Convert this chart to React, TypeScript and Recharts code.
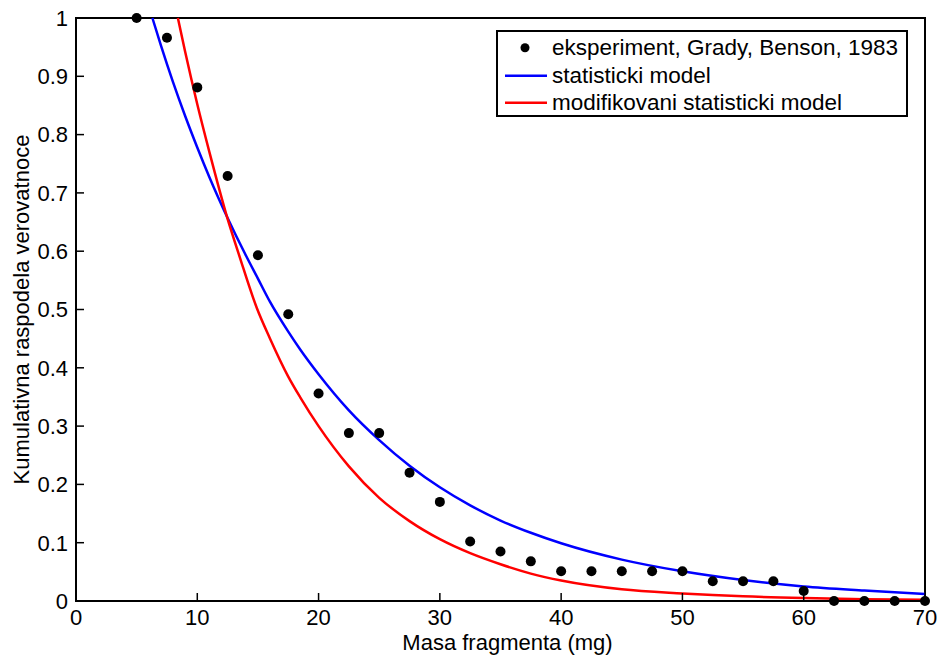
import React from 'react'
import { ComposedChart, XAxis, YAxis, Line, Scatter, Legend, ReferenceArea } from 'recharts'

const FONT = '"Liberation Sans", Arial, Helvetica, sans-serif'
const FONT_SIZE = 22

const xTicks = [0, 10, 20, 30, 40, 50, 60, 70]
const yTicks = [0, 0.1, 0.2, 0.3, 0.4, 0.5, 0.6, 0.7, 0.8, 0.9, 1]

// eksperiment, Grady, Benson, 1983
const expMass = [5, 7.5, 10, 12.5, 15, 17.5, 20, 22.5, 25, 27.5, 30, 32.5, 35, 37.5, 40, 42.5, 45, 47.5, 50, 52.5, 55, 57.5, 60, 62.5, 65, 67.5, 70]
const expProb = [1, 0.966, 0.881, 0.729, 0.593, 0.492, 0.356, 0.288, 0.288, 0.22, 0.17, 0.102, 0.085, 0.068, 0.051, 0.051, 0.051, 0.051, 0.051, 0.034, 0.034, 0.034, 0.017, 0, 0, 0, 0]

// statisticki model
const statMass = [6.3, 7, 8, 9, 10, 11, 12.5, 14, 15, 16, 17.5, 18.5, 20, 22.5, 25, 27.5, 30, 32.5, 35, 37.5, 40, 45, 50, 55, 60, 65, 70]
const statProb = [1, 0.953, 0.89, 0.832, 0.778, 0.727, 0.657, 0.593, 0.553, 0.513, 0.462, 0.431, 0.389, 0.327, 0.276, 0.232, 0.195, 0.164, 0.138, 0.117, 0.099, 0.071, 0.051, 0.036, 0.025, 0.018, 0.012]

// modifikovani statisticki model
const modMass = [8.4, 9, 10, 11, 12.45, 13.5, 14.9, 16, 17.5, 18.5, 20, 22.5, 25, 27.5, 30, 32.5, 35, 37.5, 40, 45, 50, 55, 60, 65, 70]
const modProb = [1, 0.942, 0.852, 0.77, 0.659, 0.59, 0.503, 0.45, 0.385, 0.349, 0.3, 0.231, 0.177, 0.137, 0.106, 0.082, 0.063, 0.047, 0.035, 0.02, 0.013, 0.008, 0.005, 0.003, 0.002]

const legendItems = [
  { name: 'eksperiment, Grady, Benson, 1983', kind: 'dot', color: '#000000' },
  { name: 'statisticki model', kind: 'line', color: '#0000ff' },
  { name: 'modifikovani statisticki model', kind: 'line', color: '#ff0000' },
]

const toPoints = (xs: number[], ys: number[]) => xs.map((x, i) => ({ x, y: ys[i] }))

const expData = toPoints(expMass, expProb)
const statData = toPoints(statMass, statProb)
const modData = toPoints(modMass, modProb)

const tickStyle = { fill: '#000', fontSize: FONT_SIZE, fontFamily: FONT }
const axisLine = { stroke: '#000', strokeWidth: 2 }
const tickLine = { stroke: '#000', strokeWidth: 1.5 }

const Dot = (props: { cx?: number; cy?: number }) => (
  <circle cx={props.cx} cy={props.cy} r={5} fill="#000" />
)

const LegendBox = () => (
  <div
    style={{
      border: '2px solid #000',
      background: '#fff',
      boxSizing: 'border-box',
      width: 412,
      height: 87,
      padding: '2px 0',
      fontFamily: FONT,
      fontSize: 22.5,
      color: '#000',
    }}
  >
    {legendItems.map((item) => (
      <div key={item.name} style={{ display: 'flex', alignItems: 'center', height: 27.5 }}>
        <svg width={54} height={27.5} style={{ flex: 'none' }}>
          {item.kind === 'dot' ? (
            <circle cx={27} cy={13.75} r={4.5} fill={item.color} />
          ) : (
            <line x1={7} x2={49} y1={13.75} y2={13.75} stroke={item.color} strokeWidth={2.5} />
          )}
        </svg>
        <span style={{ whiteSpace: 'nowrap', lineHeight: '27.5px' }}>{item.name}</span>
      </div>
    ))}
  </div>
)

export default function App() {
  return (
    <div style={{ position: 'absolute', left: 0, top: 0, background: '#fff' }}>
      <ComposedChart width={940} height={655} margin={{ top: 18, right: 15, bottom: 0, left: 0 }}>
        <XAxis
          dataKey="x"
          type="number"
          domain={[0, 70]}
          ticks={xTicks}
          interval={0}
          height={54}
          stroke="#000"
          axisLine={axisLine}
          tickLine={tickLine}
          tickSize={-8}
          tickMargin={16}
          tick={tickStyle}
          label={{
            value: 'Masa fragmenta (mg)',
            position: 'insideBottom',
            offset: 5,
            dx: 7,
            style: { fill: '#000', fontSize: FONT_SIZE, fontFamily: FONT },
          }}
        />
        <XAxis
          xAxisId="top"
          orientation="top"
          type="number"
          domain={[0, 70]}
          ticks={xTicks}
          interval={0}
          height={0}
          stroke="#000"
          axisLine={axisLine}
          tickLine={tickLine}
          tickSize={-8}
          tick={false}
        />
        <YAxis
          dataKey="y"
          type="number"
          domain={[0, 1]}
          ticks={yTicks}
          interval={0}
          width={76}
          stroke="#000"
          axisLine={axisLine}
          tickLine={tickLine}
          tickSize={-8}
          tickMargin={16}
          tick={tickStyle}
          tickFormatter={(v) => String(v)}
          label={{
            value: 'Kumulativna raspodela verovatnoce',
            angle: -90,
            position: 'insideLeft',
            offset: 21,
            style: { textAnchor: 'middle', fill: '#000', fontSize: FONT_SIZE, fontFamily: FONT },
          }}
        />
        <YAxis
          yAxisId="right"
          orientation="right"
          type="number"
          domain={[0, 1]}
          ticks={yTicks}
          interval={0}
          width={0}
          stroke="#000"
          axisLine={axisLine}
          tickLine={tickLine}
          tickSize={-8}
          tick={false}
        />
        <ReferenceArea
          x1={0}
          x2={70}
          y1={0}
          y2={1}
          fill="none"
          fillOpacity={0}
          stroke="#000"
          strokeWidth={2}
          ifOverflow="visible"
        />
        <Legend
          layout="horizontal"
          align="center"
          verticalAlign="middle"
          wrapperStyle={{ top: 30, left: 496, width: 412, height: 87 }}
          content={<LegendBox />}
        />
        <Scatter
          name="eksperiment, Grady, Benson, 1983"
          data={expData}
          fill="#000"
          shape={Dot}
          isAnimationActive={false}
        />
        <Line
          name="statisticki model"
          data={statData}
          dataKey="y"
          type="monotone"
          stroke="#0000ff"
          strokeWidth={2.5}
          dot={false}
          activeDot={false}
          isAnimationActive={false}
        />
        <Line
          name="modifikovani statisticki model"
          data={modData}
          dataKey="y"
          type="monotone"
          stroke="#ff0000"
          strokeWidth={2.5}
          dot={false}
          activeDot={false}
          isAnimationActive={false}
        />
      </ComposedChart>
    </div>
  )
}
